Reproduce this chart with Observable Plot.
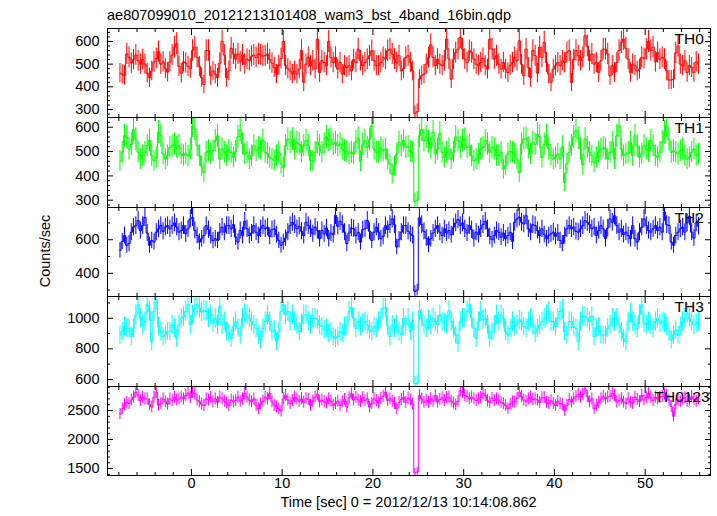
<!DOCTYPE html>
<html><head><meta charset="utf-8">
<script src="https://cdn.jsdelivr.net/npm/d3@7"></script>
<script src="https://cdn.jsdelivr.net/npm/@observablehq/plot@0.6"></script>
<style>
body{margin:0;background:#fff;}
#chart{position:relative;width:717px;height:516px;overflow:hidden;background:#fff;font-family:"Liberation Sans",Arial,Helvetica,sans-serif;}
#chart svg{position:absolute;left:0;}
</style></head><body><div id="chart"></div>
<script>
const titleText = "ae807099010_20121213101408_wam3_bst_4band_16bin.qdp";
const xLabel = "Time [sec] 0 = 2012/12/13 10:14:08.862";
const yLabel = "Counts/sec";
const panelNames = ["TH0","TH1","TH2","TH3","TH0123"];
const panelColors = ["#ff0000","#00ff00","#0000ff","#00ffff","#ff00ff"];
const tStart = -7.875, binWidth = 0.25;

const th0 = [460,455,450,545,530,505,520,540,515,500,520,500,460,440,470,510,525,555,500,510,480,465,510,540,575,590,490,460,510,505,490,480,560,575,530,490,440,410,
560,560,449,470,456,440,505,600,540,440,470,570,545,522,545,510,540,500,522,515,535,540,529,545,540,535,537,545,520,505,485,456,495,525,600,493,480,470,456,470,456,478,560,420,
500,530,493,515,478,610,463,515,507,493,600,529,507,530,478,507,456,493,485,493,470,520,507,566,515,493,507,522,537,559,515,493,493,507,530,522,559,566,544,522,507,537,470,480,
530,537,507,470,282,290,434,449,456,500,529,585,530,493,522,500,493,515,610,522,434,522,551,566,618,566,522,507,559,551,522,500,493,507,525,493,478,610,566,522,537,500,478,507,
478,463,495,507,530,515,603,500,449,566,485,440,560,537,460,575,530,596,507,456,420,478,493,507,493,515,507,551,559,419,520,560,537,515,530,625,580,515,544,500,507,463,515,566,
566,545,449,493,463,507,560,596,610,570,522,463,500,493,470,478,530,525,566,600,560,575,510,551,522,530,522,470,430,430,434,550,580,500,493,515,463,493,485,463,510,500];

const th1 = [462,497,565,558,510,530,590,551,497,469,483,497,524,545,483,462,476,580,565,490,469,483,517,524,531,517,524,490,483,490,483,510,606,592,524,483,440,414,
497,503,490,503,545,565,469,510,497,483,505,495,476,500,560,590,531,490,495,469,483,524,503,517,510,545,497,490,476,469,462,483,497,450,435,524,551,538,551,510,538,531,497,524,
545,524,462,460,497,538,524,497,531,560,545,551,530,538,524,531,510,503,500,490,497,490,540,555,460,530,545,517,550,606,510,497,497,515,503,510,469,448,407,440,490,538,524,545,
517,520,500,497,295,300,565,590,545,560,540,515,580,490,510,575,497,476,497,510,469,497,560,545,517,545,551,517,524,483,462,469,490,510,517,545,531,497,517,510,483,483,497,428,
442,490,500,497,490,469,414,531,551,555,515,490,538,530,570,560,476,530,565,510,485,469,476,490,469,520,373,450,497,524,560,586,555,510,445,551,517,497,483,455,476,497,510,517,
510,469,497,538,469,565,606,510,483,490,497,538,483,565,524,476,490,524,510,500,545,524,483,476,497,540,579,606,550,497,503,497,490,503,510,483,469,476,497,510,483,490];

const th2 = [537,590,625,567,577,645,675,684,714,655,684,733,640,567,596,586,645,665,684,650,675,684,665,684,700,675,645,655,684,635,665,724,733,655,625,586,606,625,
684,660,625,595,606,596,645,675,645,684,684,665,690,615,586,655,625,710,665,625,640,684,645,625,665,684,665,675,620,660,665,630,596,567,586,610,645,684,704,690,665,680,650,625,
704,684,665,635,675,655,606,655,635,670,606,640,630,745,680,710,690,645,577,640,670,665,625,645,586,660,665,714,650,596,645,675,645,606,620,684,660,690,724,690,557,600,645,684,
684,650,635,625,292,300,730,690,650,610,570,606,640,665,684,645,625,665,640,655,630,675,700,720,684,700,665,640,684,660,606,645,630,665,690,710,665,620,600,625,655,645,615,640,
606,625,645,590,704,724,735,704,694,743,665,645,690,684,655,625,665,630,606,625,635,645,620,640,596,577,625,665,684,665,675,650,645,665,684,714,704,690,665,675,625,655,684,665,
606,670,724,704,743,684,645,665,630,645,625,606,684,606,586,645,675,724,684,655,645,665,684,655,675,645,765,690,684,586,567,625,645,665,675,645,700,740,645,610,700,680];

const th3 = [890,912,945,934,934,880,934,1022,1088,1000,956,978,1088,1044,846,1044,1120,945,912,880,890,912,912,956,934,868,956,1000,1010,1044,1088,956,1022,1066,1088,1066,1040,1050,
1044,1000,1022,967,1000,956,1080,956,978,912,900,868,945,978,934,890,1000,1030,1022,1000,978,956,934,890,857,934,978,1022,978,912,923,846,912,1044,1088,1022,1044,978,1022,978,956,912,967,1022,
1022,978,956,1000,1000,989,956,945,923,934,901,912,879,868,880,912,900,945,950,1044,1070,1000,934,978,945,967,978,956,923,912,945,934,978,1000,1066,1070,950,880,956,934,956,912,890,1000,
956,1000,912,978,572,575,1050,1000,956,934,989,956,1000,978,956,1022,978,967,956,1050,978,934,890,835,980,1000,1000,1044,1088,1000,934,868,978,1044,989,1000,956,868,912,956,1022,978,1022,1000,
912,890,934,978,945,956,989,978,945,934,978,1000,956,901,934,956,978,1000,1022,1044,978,978,945,1000,1044,1060,912,890,978,978,945,934,846,978,1011,1011,1000,978,1011,879,934,945,890,890,
890,934,956,1000,978,1000,956,912,868,846,978,1033,978,956,934,1022,1088,967,956,978,956,934,978,1000,967,978,967,945,912,857,890,923,890,945,978,1000,1033,1000,978,956,967,978];

const th0123 = [2440,2530,2600,2640,2620,2680,2730,2816,2760,2670,2730,2700,2700,2600,2560,2730,2816,2590,2620,2700,2650,2610,2700,2670,2730,2680,2700,2730,2700,2759,2800,2720,2816,2790,2680,2650,2610,2586,
2701,2680,2730,2650,2700,2640,2730,2700,2660,2630,2586,2680,2650,2670,2730,2660,2701,2790,2730,2680,2650,2700,2590,2529,2610,2660,2730,2700,2790,2650,2590,2560,2529,2490,2701,2759,2680,2620,2670,2730,2700,2660,2700,2640,
2701,2690,2586,2660,2730,2780,2650,2680,2650,2630,2701,2660,2590,2620,2660,2586,2650,2690,2557,2720,2790,2680,2730,2680,2650,2720,2670,2700,2557,2620,2700,2670,2630,2710,2745,2816,2670,2701,2660,2620,2529,2640,2690,2730,
2640,2710,2680,2610,1425,1440,2759,2700,2640,2680,2640,2700,2660,2759,2644,2690,2720,2670,2720,2730,2660,2630,2600,2660,2840,2810,2760,2740,2701,2730,2701,2670,2701,2720,2790,2760,2670,2640,2710,2670,2700,2680,2640,2620,
2586,2529,2610,2650,2644,2701,2816,2740,2680,2660,2701,2730,2690,2700,2680,2640,2720,2720,2640,2620,2670,2620,2586,2660,2620,2600,2500,2586,2690,2644,2700,2740,2780,2730,2780,2874,2740,2650,2701,2529,2590,2640,2700,2740,
2701,2730,2740,2790,2759,2644,2670,2701,2644,2620,2701,2644,2620,2730,2690,2650,2759,2680,2720,2800,2720,2670,2730,2700,2730,2740,2780,2759,2680,2570,2400,2610,2680,2650,2700,2720,2660,2680,2740,2690,2660,2700];

const series = [th0, th1, th2, th3, th0123];
const yDomains = [[265,657],[270,640],[262,792],[554,1142],[1380,2914]];
const yMajor = [[300,400,500,600],[300,400,500,600],[400,600],[600,800,1000],[1500,2000,2500]];
const yMinorStep = [20,20,100,100,100];
const xDomain = [-9.25, 57.2];
const xMajor = [0,10,20,30,40,50];
const xMinorStep = 2;
const panelTops = [28,117,207,296,386];
const panelBottom = 475;
const labelLeft = [674,674,674,674,654];

const FONT = '"Liberation Sans",Arial,Helvetica,sans-serif';
const chart = document.getElementById("chart");

// page texts
const ov = d3.select(chart).append("svg").attr("width",717).attr("height",516).style("top","0px")
  .attr("font-family",FONT).attr("fill","#000");
ov.append("text").attr("x",107).attr("y",20).attr("font-size",14.5).text(titleText);
ov.append("text").attr("x",408.5).attr("y",507).attr("text-anchor","middle").attr("font-size",14.5).text(xLabel);
ov.append("text").attr("transform","translate(50,251) rotate(-90)").attr("text-anchor","middle").attr("font-size",14.5).text(yLabel);

const xMinor = d3.range(Math.ceil(xDomain[0]/xMinorStep)*xMinorStep, xDomain[1], xMinorStep).filter(v => !xMajor.includes(v));
const blank = () => "";
const plain = d => String(d);

series.forEach((vals, k) => {
  const color = panelColors[k];
  const data = vals.map((v, i) => ({t: tStart + binWidth*i, v, e: Math.sqrt(v/binWidth)}));
  const [y0, y1] = yDomains[k];
  const step = yMinorStep[k];
  const yMinor = d3.range(Math.ceil(y0/step)*step, y1, step).filter(v => !yMajor[k].includes(v));
  const top = panelTops[k];
  const bottom = k < 4 ? panelTops[k+1] : panelBottom;
  const isLast = k === 4;
  const mb = isLast ? 40 : 1;
  const svg = Plot.plot({
    width: 717,
    height: (bottom - top) + 1 + mb,
    marginLeft: 107, marginRight: 7, marginTop: 1, marginBottom: mb,
    style: {background: "transparent", fontFamily: FONT, fontSize: "14.5px", color: "#000"},
    x: {domain: xDomain},
    y: {domain: [y0, y1]},
    marks: [
      Plot.ruleX(data, {x: "t", y1: d => d.v - d.e, y2: d => d.v + d.e, stroke: color, strokeWidth: 1, clip: true}),
      Plot.line(data, {x: "t", y: "v", curve: "step", stroke: color, strokeWidth: 1, clip: true}),
      Plot.frame({stroke: "#000"}),
      Plot.axisY(yMajor[k], {anchor: "left", tickSize: -6, tickPadding: 14, tickFormat: plain, label: null, fontSize: 14.5}),
      Plot.axisY(yMinor, {anchor: "left", tickSize: -3, tickFormat: blank, label: null}),
      Plot.axisY(yMajor[k], {anchor: "right", tickSize: -6, tickFormat: blank, label: null}),
      Plot.axisY(yMinor, {anchor: "right", tickSize: -3, tickFormat: blank, label: null}),
      Plot.axisX(xMajor, {anchor: "top", tickSize: -6, tickFormat: blank, label: null}),
      Plot.axisX(xMinor, {anchor: "top", tickSize: -3, tickFormat: blank, label: null}),
      Plot.axisX(xMajor, {anchor: "bottom", tickSize: -6, tickPadding: 8, tickFormat: isLast ? plain : blank, label: null, fontSize: 14.5}),
      Plot.axisX(xMinor, {anchor: "bottom", tickSize: -3, tickFormat: blank, label: null}),
      Plot.text([panelNames[k]], {frameAnchor: "top-left", textAnchor: "start", lineAnchor: "top", dx: labelLeft[k] - 107, dy: 4, fontSize: 15.5, fill: "#000"})
    ]
  });
  svg.style.top = (top - 1) + "px";
  chart.appendChild(svg);
});
</script></body></html>
